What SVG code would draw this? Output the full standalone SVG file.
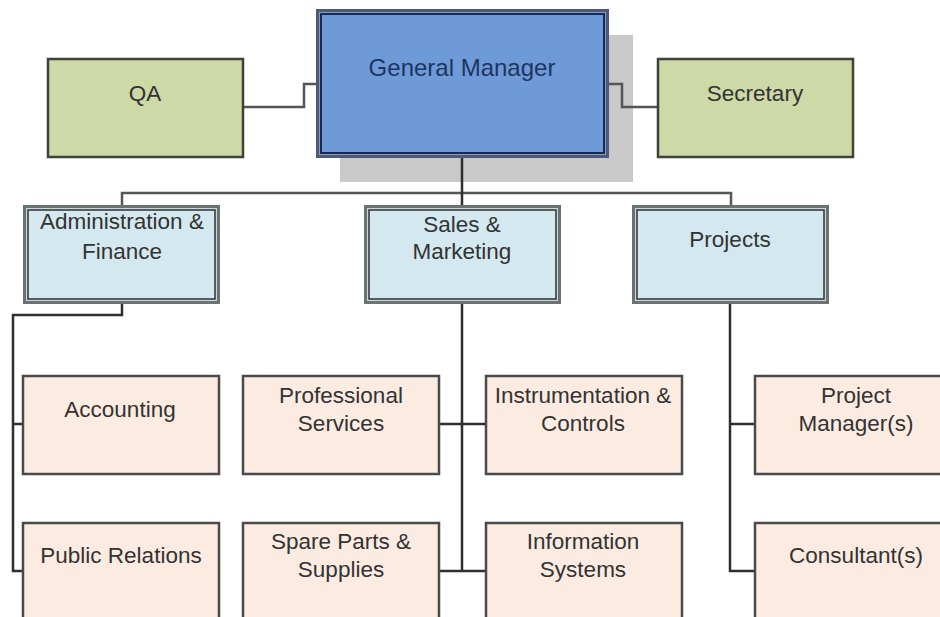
<svg xmlns="http://www.w3.org/2000/svg" width="940" height="617" viewBox="0 0 940 617">
<style>
text{font-family:"Liberation Sans",Arial,sans-serif;font-size:22.5px;fill:#333;text-anchor:middle}
.gmt{font-size:24px;fill:#1e3461}
.green{fill:#cdd9a6;stroke:#3e4238;stroke-width:2.5}
.peach{fill:#fbebe1;stroke:#4a4a4a;stroke-width:2.5}
.dOut{fill:#6a7272}
.dMid{fill:#c9d6da}
.dIn{fill:#d3e8ef;stroke:#2e3234;stroke-width:1.5}
.con{fill:none;stroke:#2f2f2f;stroke-width:2.5}
.conL{fill:none;stroke:#555;stroke-width:2.5}
</style>
<rect width="940" height="617" fill="#fff"/>
<g id="general-manager">
<rect x="340" y="35" width="293" height="147" fill="#c9c9c9"/>
<rect x="316" y="9" width="293" height="149" fill="#4c5a78"/>
<rect x="319" y="12" width="287" height="143" fill="#8b9bb8"/>
<rect x="321" y="14" width="283" height="139" fill="#6e9bd8" stroke="#17295a" stroke-width="2"/>
<text class="gmt" x="462" y="76">General Manager</text>
</g>
<g id="connectors">
<path class="conL" d="M243 107 H304 V84 H316"/>
<path class="conL" d="M609 84 H622 V107 H658"/>
<path class="conL" d="M122 205 V193 H731 V205"/>
<path class="con" d="M462 158 V205"/>
<path class="con" d="M122 304 V315 H13 V571 H23"/>
<path class="con" d="M13 424 H23"/>
<path class="con" d="M462 304 V571"/>
<path class="con" d="M439 424 H486"/>
<path class="con" d="M439 571 H486"/>
<path class="con" d="M730 304 V571 H755"/>
<path class="con" d="M730 424 H755"/>
</g>
<g id="qa">
<rect class="green" x="48" y="59" width="195" height="98"/>
<text x="145" y="101">QA</text>
</g>
<g id="secretary">
<rect class="green" x="658" y="59" width="195" height="98"/>
<text x="755" y="101">Secretary</text>
</g>
<g id="admin-finance">
<rect class="dOut" x="23" y="205" width="197" height="99"/>
<rect class="dMid" x="26" y="208" width="191" height="93"/>
<rect class="dIn" x="28" y="210" width="187" height="89"/>
<text x="122" y="229">Administration &amp;</text>
<text x="122" y="259">Finance</text>
</g>
<g id="sales-marketing">
<rect class="dOut" x="364" y="205" width="197" height="99"/>
<rect class="dMid" x="367" y="208" width="191" height="93"/>
<rect class="dIn" x="369" y="210" width="187" height="89"/>
<text x="462" y="232">Sales &amp;</text>
<text x="462" y="259">Marketing</text>
</g>
<g id="projects">
<rect class="dOut" x="632" y="205" width="197" height="99"/>
<rect class="dMid" x="635" y="208" width="191" height="93"/>
<rect class="dIn" x="637" y="210" width="187" height="89"/>
<text x="730" y="247">Projects</text>
</g>
<g id="accounting">
<rect class="peach" x="23" y="376" width="196" height="98"/>
<text x="120" y="417">Accounting</text>
</g>
<g id="professional-services">
<rect class="peach" x="243" y="376" width="196" height="98"/>
<text x="341" y="403">Professional</text>
<text x="341" y="431">Services</text>
</g>
<g id="instrumentation-controls">
<rect class="peach" x="486" y="376" width="196" height="98"/>
<text x="583" y="403">Instrumentation &amp;</text>
<text x="583" y="431">Controls</text>
</g>
<g id="project-managers">
<rect class="peach" x="755" y="376" width="196" height="98"/>
<text x="856" y="403">Project</text>
<text x="856" y="431">Manager(s)</text>
</g>
<g id="public-relations">
<rect class="peach" x="23" y="523" width="196" height="100"/>
<text x="121" y="563">Public Relations</text>
</g>
<g id="spare-parts">
<rect class="peach" x="243" y="523" width="196" height="100"/>
<text x="341" y="549">Spare Parts &amp;</text>
<text x="341" y="577">Supplies</text>
</g>
<g id="information-systems">
<rect class="peach" x="486" y="523" width="196" height="100"/>
<text x="583" y="549">Information</text>
<text x="583" y="577">Systems</text>
</g>
<g id="consultants">
<rect class="peach" x="755" y="523" width="196" height="100"/>
<text x="856" y="563">Consultant(s)</text>
</g>
</svg>
